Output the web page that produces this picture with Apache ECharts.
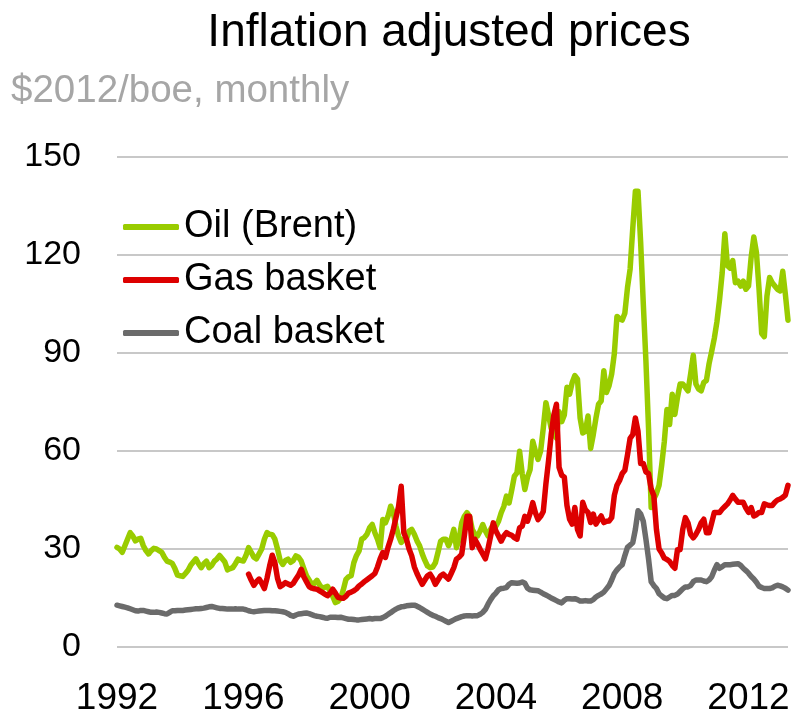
<!DOCTYPE html>
<html>
<head>
<meta charset="utf-8">
<script src="https://cdn.jsdelivr.net/npm/echarts@6/dist/echarts.min.js"></script>
<style>
html,body{margin:0;padding:0;background:#fff;}
#chart{width:796px;height:717px;}
</style>
</head>
<body>
<div id="chart"></div>
<script>
// Monthly series, Jan 1992 .. Apr 2013 ($2012/boe)
const startYear = 1992;
const tickYears = [1992, 1996, 2000, 2004, 2008, 2012];
const seriesNames = ['Oil (Brent)', 'Gas basket', 'Coal basket'];

const oilBrent = [
  30.5,30,29,31,33,35,34,32.5,33,33.3,31,29.5,
  28.5,29.5,30.2,30,29.5,29,27.5,26.3,26,25.6,24,22,
  21.8,21.6,22.5,23.5,25,26,27,25.5,24.3,25.5,26.3,24.3,
  25,26.3,27,28,27,26,23.6,24,24.3,25.5,26.9,26.5,
  26.3,28,30.4,29,27.5,27,28.5,30,33,35,34.5,34.4,
  33,30,26.5,25.3,26.5,26.9,25.9,26.5,27.9,27.5,26.3,24,
  21.8,20.5,19.2,19.5,20.4,19,17.9,18.3,18.6,17,15.5,13.6,
  14,15,17.5,20.7,21.5,21.8,25.8,28,29.4,33,33.5,34.5,
  36.5,37.5,35,33,30.4,39,38,40,43.1,41.1,37,34,
  32,33,33,35.5,36,34.5,32.5,31,28.5,26.5,24.8,24.3,
  24.5,25.8,29,32.4,33,33,31,33,36,30.4,33,38,
  40,41.1,40,36,34.5,34,35.5,37.5,35.5,34,36,37.5,
  37,38.5,41.1,43,46.2,44.1,48,52.3,53.3,59.9,53,48.2,
  52,54.3,63,60,57.4,60,67,74.8,71,67,65,64,
  72,69,71,79.5,77.4,81,83.1,82,70.1,65.5,66,70.7,
  60.8,65,70,74.3,75.3,84.6,77.9,80,83.6,89.8,101.2,100.5,
  100.1,102.2,110,115.7,128.1,139.5,139.5,123.9,105.3,87.7,67,42.7,
  45.3,47,49.5,55.7,62.9,72.7,68.1,77.4,71.2,76.4,80.5,80.5,
  79.5,78.4,83.6,89.3,80.5,79,78.4,81,81.6,86.7,90.5,94.5,
  99.6,106.4,114.6,126.5,116.7,116,118.3,111.5,112,110.5,112,109.5,
  110.5,119.3,125.5,120.8,109.5,96,95,107.4,113.1,111.5,110.5,109.5,
  109,115,108,100
];

const gasBasket = [
  null,null,null,null,null,null,null,null,null,null,null,null,
  null,null,null,null,null,null,null,null,null,null,null,null,
  null,null,null,null,null,null,null,null,null,null,null,null,
  null,null,null,null,null,null,null,null,null,null,null,null,
  null,null,22.3,20.5,18.9,20,20.8,19.5,17.9,21,24.8,28.1,
  25.8,21,18.5,19,19.7,19.3,18.9,19.5,20.8,22,23.8,21.5,
  20,18.5,18,17.8,17.7,17.2,16.7,16.2,15.7,16.5,17.7,16.5,
  15.2,15,14.9,15.5,16.5,16.8,17.2,17.8,18.7,19.3,20,20.6,
  21.2,21.8,22.5,24.5,27,28.9,27.4,30.5,33,36,39.5,43,
  49.2,35,33,30,27.9,24.5,22.5,20.8,19.2,20.5,21.8,22.3,
  21,19.2,20.5,21.8,22.3,21.5,20.8,22.5,24.3,26.9,27.5,28.4,
  34,40,40,30.4,33,31.5,29.9,28.5,27,30.1,34,38,
  35.5,34,32.4,34,35,34.5,34.2,33.5,33,36.5,37,40,
  38.5,41,44.2,41.1,39,40,41.5,50,57,65,71,74.3,
  55,52.6,52,43.3,39.1,37.6,42.7,36,34,44.3,42,41.2,
  38.1,40.7,37.6,39,40.1,38.1,38.5,38.6,39.6,46.4,49.5,51,
  53.1,54.1,58.8,63.9,65,70.1,66,56.2,56.2,53.6,53.1,48.4,
  46.4,36,30,28.8,27.2,26.8,26.2,25,24.1,29.8,29.8,36,
  39.6,38,34.5,33.4,34.5,36,38,39.1,35,35,38,41.2,
  41.2,41.2,42.2,43,43.8,45,46.4,45.3,44.3,44.3,44.3,42.5,
  41.2,42.7,40.1,40.5,41.2,41.2,43.8,43.5,43.3,43.3,44.3,45,
  45.3,45.8,46.5,49.5
];

const coalBasket = [
  12.8,12.6,12.4,12.2,12,11.7,11.4,11.1,11,11.2,11.2,11,
  10.8,10.6,10.6,10.7,10.6,10.4,10.2,10.1,10.6,11.1,11.1,11.2,
  11.2,11.2,11.3,11.4,11.5,11.6,11.7,11.7,11.8,11.9,12.1,12.3,
  12.4,12.2,12,11.8,11.8,11.7,11.6,11.6,11.6,11.7,11.6,11.6,
  11.6,11.4,11.1,10.9,10.8,10.9,11,11.1,11.2,11.2,11.2,11.1,
  11.1,11,10.9,10.8,10.6,10.2,9.7,9.4,9.8,10.1,10.2,10.3,
  10.4,10.2,9.9,9.6,9.4,9.3,9.1,8.9,8.8,9.1,9.1,9.1,
  9,9.1,8.9,8.7,8.5,8.5,8.4,8.3,8.3,8.4,8.5,8.6,
  8.7,8.6,8.7,8.7,8.7,9,9.4,10,10.5,11.1,11.6,12,
  12.3,12.4,12.6,12.7,12.8,12.8,12.5,12.1,11.6,11.1,10.6,10.1,
  9.7,9.4,9,8.7,8.3,7.9,7.5,7.9,8.3,8.7,9,9.3,
  9.5,9.6,9.6,9.5,9.6,9.6,10,10.6,11.5,13.1,14.5,15.7,
  16.5,17.5,17.9,18,18.2,19.2,19.7,19.6,19.5,19.6,19.9,19.5,
  18,17.5,17.4,17.3,17.2,16.8,16.3,15.9,15.5,15,14.6,14.2,
  13.8,13.5,14.3,14.8,14.8,14.7,14.8,14.5,14.1,14.1,14.2,14.1,
  14.1,14.5,15.3,15.8,16.2,16.8,17.8,18.8,20.5,22.5,23.6,24.5,
  25.2,28,30.5,31.2,31.9,36,41.7,40.7,38.5,33,27,20,
  18.8,17.9,16.3,15.6,15,14.8,15.3,15.8,15.8,16.2,17,17.8,
  18.4,18.4,18.8,20,20.5,20.5,20.5,20.2,20,20.5,21.5,23.5,
  25.2,24.1,24.6,25.2,25.2,25.2,25.3,25.4,25.5,25,24.1,23.4,
  22.6,21.6,20.8,19.8,18.6,18.2,17.9,17.9,17.9,18.1,18.6,18.9,
  18.7,18.4,18,17.4
];

const months = [];
for (let i = 0; i < oilBrent.length; i++) {
  const y = startYear + Math.floor(i / 12);
  const m = (i % 12) + 1;
  months.push(y + '-' + (m < 10 ? '0' + m : m));
}

const FONT = '"Liberation Sans", Arial, Helvetica, sans-serif';
const chart = echarts.init(document.getElementById('chart'), null, {renderer: 'canvas'});

chart.setOption({
  animation: false,
  backgroundColor: '#ffffff',
  textStyle: {fontFamily: FONT},
  graphic: [
    {type: 'text', style: {text: 'Inflation adjusted prices', x: 449, y: 33, textAlign: 'center', textVerticalAlign: 'middle', font: '46px ' + FONT, fill: '#000000'}},
    {type: 'text', style: {text: '$2012/boe, monthly', x: 11, y: 91, textAlign: 'left', textVerticalAlign: 'middle', font: '38.5px ' + FONT, fill: '#a6a6a6'}}
  ],
  legend: {
    orient: 'vertical',
    left: 118,
    top: 202,
    padding: 5,
    itemWidth: 56,
    itemHeight: 6,
    itemGap: 13,
    icon: 'roundRect',
    data: seriesNames,
    textStyle: {fontSize: 38, color: '#000000', lineHeight: 40, fontFamily: FONT}
  },
  grid: {left: 117, right: 8, top: 157, bottom: 69, containLabel: false},
  xAxis: {
    type: 'category',
    data: months,
    boundaryGap: false,
    axisLine: {show: false},
    axisTick: {show: false},
    splitLine: {show: false},
    axisLabel: {
      interval: function (idx, val) { return tickYears.indexOf(Number(val.slice(0, 4))) >= 0 && val.slice(5) === '01'; },
      formatter: function (val) { return val.slice(0, 4); },
      fontSize: 37,
      color: '#000000',
      margin: 33,
      fontFamily: FONT
    }
  },
  yAxis: {
    type: 'value',
    min: 0,
    max: 150,
    interval: 30,
    axisLine: {show: false},
    axisTick: {show: false},
    splitLine: {lineStyle: {color: '#c8c8c8', width: 2}},
    axisLabel: {fontSize: 34, color: '#000000', margin: 36, fontFamily: FONT}
  },
  series: [
    {name: seriesNames[0], type: 'line', data: oilBrent, symbol: 'none', showSymbol: false, color: '#99cc00',
     lineStyle: {width: 5.5, color: '#99cc00', cap: 'round', join: 'round'}, z: 3},
    {name: seriesNames[1], type: 'line', data: gasBasket, symbol: 'none', showSymbol: false, color: '#dd0000',
     lineStyle: {width: 5.5, color: '#dd0000', cap: 'round', join: 'round'}, z: 4},
    {name: seriesNames[2], type: 'line', data: coalBasket, symbol: 'none', showSymbol: false, color: '#6b6b6b',
     lineStyle: {width: 5.5, color: '#6b6b6b', cap: 'round', join: 'round'}, z: 2}
  ]
});
</script>
</body>
</html>
